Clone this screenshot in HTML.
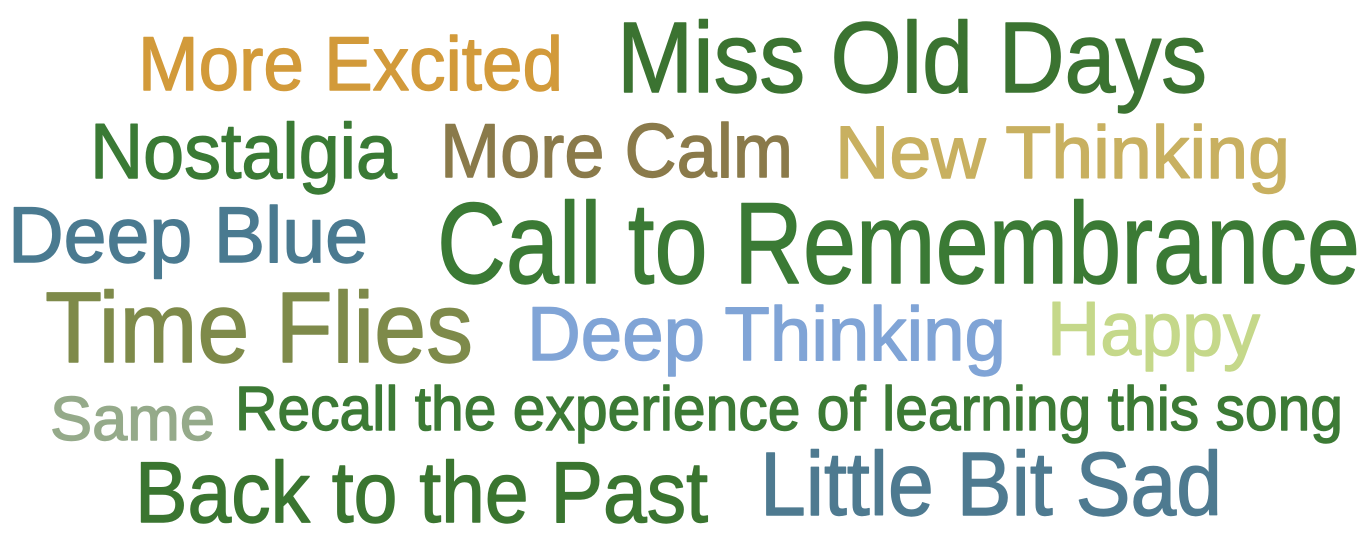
<!DOCTYPE html>
<html><head><meta charset="utf-8"><style>
html,body{margin:0;padding:0;background:#fff;}
svg{display:block}
text{font-family:"Liberation Sans","DejaVu Sans",sans-serif;stroke-width:1.4;stroke-linejoin:round;}
</style></head><body>
<svg width="1366" height="548" viewBox="0 0 1366 548">
<text x="138" y="90" font-size="76" fill="#D29A3A" stroke="#D29A3A" textLength="425" lengthAdjust="spacingAndGlyphs">More Excited</text>
<text x="617" y="92" font-size="100" fill="#3B7331" stroke="#3B7331" textLength="590" lengthAdjust="spacingAndGlyphs">Miss Old Days</text>
<text x="90" y="178" font-size="78" fill="#3A7A35" stroke="#3A7A35" textLength="307" lengthAdjust="spacingAndGlyphs">Nostalgia</text>
<text x="440" y="177" font-size="76" fill="#8A7A4A" stroke="#8A7A4A" textLength="353" lengthAdjust="spacingAndGlyphs">More Calm</text>
<text x="835" y="178" font-size="74" fill="#C8B060" stroke="#C8B060" textLength="455" lengthAdjust="spacingAndGlyphs">New Thinking</text>
<text x="8" y="262" font-size="79" fill="#4A7A90" stroke="#4A7A90" textLength="360" lengthAdjust="spacingAndGlyphs">Deep Blue</text>
<text x="437" y="283" font-size="115" fill="#3B7A35" stroke="#3B7A35" textLength="923" lengthAdjust="spacingAndGlyphs">Call to Remembrance</text>
<text x="45" y="362" font-size="100" fill="#7E8A4A" stroke="#7E8A4A" textLength="428" lengthAdjust="spacingAndGlyphs">Time Flies</text>
<text x="527" y="360" font-size="76" fill="#80A4D6" stroke="#80A4D6" textLength="479" lengthAdjust="spacingAndGlyphs">Deep Thinking</text>
<text x="1047" y="355" font-size="76" fill="#C5D88A" stroke="#C5D88A" textLength="213" lengthAdjust="spacingAndGlyphs">Happy</text>
<text x="50" y="440" font-size="62" fill="#95AA8A" stroke="#95AA8A" textLength="165" lengthAdjust="spacingAndGlyphs">Same</text>
<text x="235" y="430" font-size="62" fill="#3C7A35" stroke="#3C7A35" textLength="1108" lengthAdjust="spacingAndGlyphs">Recall the experience of learning this song</text>
<text x="135" y="522" font-size="86" fill="#3A7530" stroke="#3A7530" textLength="573" lengthAdjust="spacingAndGlyphs">Back to the Past</text>
<text x="760" y="515" font-size="90" fill="#4E7A90" stroke="#4E7A90" textLength="462" lengthAdjust="spacingAndGlyphs">Little Bit Sad</text>
</svg>
</body></html>
